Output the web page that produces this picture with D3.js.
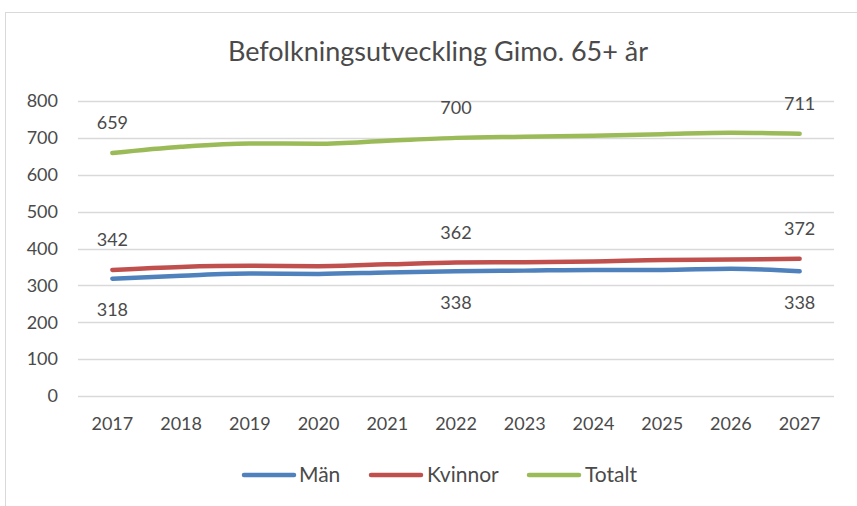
<!DOCTYPE html>
<html>
<head>
<meta charset="utf-8">
<script src="https://cdn.jsdelivr.net/npm/d3@7"></script>
<style>
  body { margin: 0; background: #fff; }
  svg text { font-family: Lato, "Open Sans", sans-serif; fill: #4a4a4a; }
</style>
</head>
<body>
<div id="chart"></div>
<script>
// Data
const years = ['2017', '2018', '2019', '2020', '2021', '2022', '2023', '2024', '2025', '2026', '2027'];
const man = [318, 326, 332, 331, 335, 338, 340, 342, 342, 345, 338];
const kvinnor = [342, 350, 353, 352, 357, 362, 363, 365, 369, 370, 372];
const totalt = [659, 676, 685, 684, 692, 700, 703, 706, 710, 714, 711];
const yTicks = [0, 100, 200, 300, 400, 500, 600, 700, 800];
const labelledYears = ['2017', '2022', '2027'];

const series = [
    { name: 'Män', values: man, color: '#4F81BD', labelPos: 'below' },
    { name: 'Kvinnor', values: kvinnor, color: '#C0504D', labelPos: 'above' },
    { name: 'Totalt', values: totalt, color: '#9BBB59', labelPos: 'above' }
];

const width = 857, height = 506;
const margin = { top: 101, right: 23, bottom: 110, left: 78 };

const svg = d3.select('#chart').append('svg')
    .attr('width', width)
    .attr('height', height);

// Chart area border
svg.append('rect')
    .attr('x', 5.5).attr('y', 12.5)
    .attr('width', 870).attr('height', 520)
    .attr('fill', 'none')
    .attr('stroke', '#D9D9D9');

// Title
svg.append('text')
    .attr('x', 438).attr('y', 61)
    .attr('text-anchor', 'middle')
    .attr('font-size', 27)
    .text('Befolkningsutveckling Gimo. 65+ år');

const x = d3.scaleBand()
    .domain(years)
    .range([margin.left, width - margin.right]);

const y = d3.scaleLinear()
    .domain([0, 800])
    .range([height - margin.bottom, margin.top]);

// Gridlines
svg.append('g')
    .selectAll('line')
    .data(yTicks)
    .join('line')
    .attr('x1', margin.left)
    .attr('x2', width - margin.right)
    .attr('y1', d => Math.round(y(d)) + 0.5)
    .attr('y2', d => Math.round(y(d)) + 0.5)
    .attr('stroke', '#D9D9D9')
    .attr('stroke-width', 1.3);

// Y axis labels
const yAxis = svg.append('g')
    .attr('transform', `translate(${margin.left - 20},0)`)
    .call(d3.axisLeft(y).tickValues(yTicks).tickSize(0).tickPadding(0));
yAxis.select('.domain').remove();
yAxis.selectAll('text').attr('font-size', 18).style('font-family', 'Lato, sans-serif').attr('fill', '#4a4a4a');

// X axis labels
const xAxis = svg.append('g')
    .attr('transform', `translate(0,${height - margin.bottom + 21})`)
    .call(d3.axisBottom(x).tickSize(0).tickPadding(0));
xAxis.select('.domain').remove();
xAxis.selectAll('text').attr('font-size', 18).attr('dy', '0.71em').style('font-family', 'Lato, sans-serif').attr('fill', '#4a4a4a');

const line = d3.line()
    .x((d, i) => x(years[i]) + x.bandwidth() / 2)
    .y(d => y(d))
    .curve(d3.curveMonotoneX);

// Series lines
svg.append('g')
    .selectAll('path')
    .data(series)
    .join('path')
    .attr('d', d => line(d.values))
    .attr('fill', 'none')
    .attr('stroke', d => d.color)
    .attr('stroke-width', 4.5)
    .attr('stroke-linecap', 'round');

// Data labels
series.forEach(s => {
    svg.append('g')
        .selectAll('text')
        .data(labelledYears)
        .join('text')
        .attr('x', d => x(d) + x.bandwidth() / 2)
        .attr('y', d => y(s.values[years.indexOf(d)]) + (s.labelPos === 'above' ? -30 : 31))
        .attr('dy', '0.35em')
        .attr('text-anchor', 'middle')
        .attr('font-size', 18)
        .text(d => s.values[years.indexOf(d)]);
});

// Legend
const legendItems = [
    { x: 242, textX: 299 },
    { x: 369, textX: 427 },
    { x: 527, textX: 585 }
];
const legend = svg.append('g');
series.forEach((s, i) => {
    const item = legendItems[i];
    legend.append('line')
        .attr('x1', item.x + 2).attr('x2', item.x + 52)
        .attr('y1', 475).attr('y2', 475)
        .attr('stroke', s.color)
        .attr('stroke-width', 4.5)
        .attr('stroke-linecap', 'round');
    legend.append('text')
        .attr('x', item.textX)
        .attr('y', 475)
        .attr('dy', '0.35em')
        .attr('font-size', 21)
        .text(s.name);
});
</script>
</body>
</html>
